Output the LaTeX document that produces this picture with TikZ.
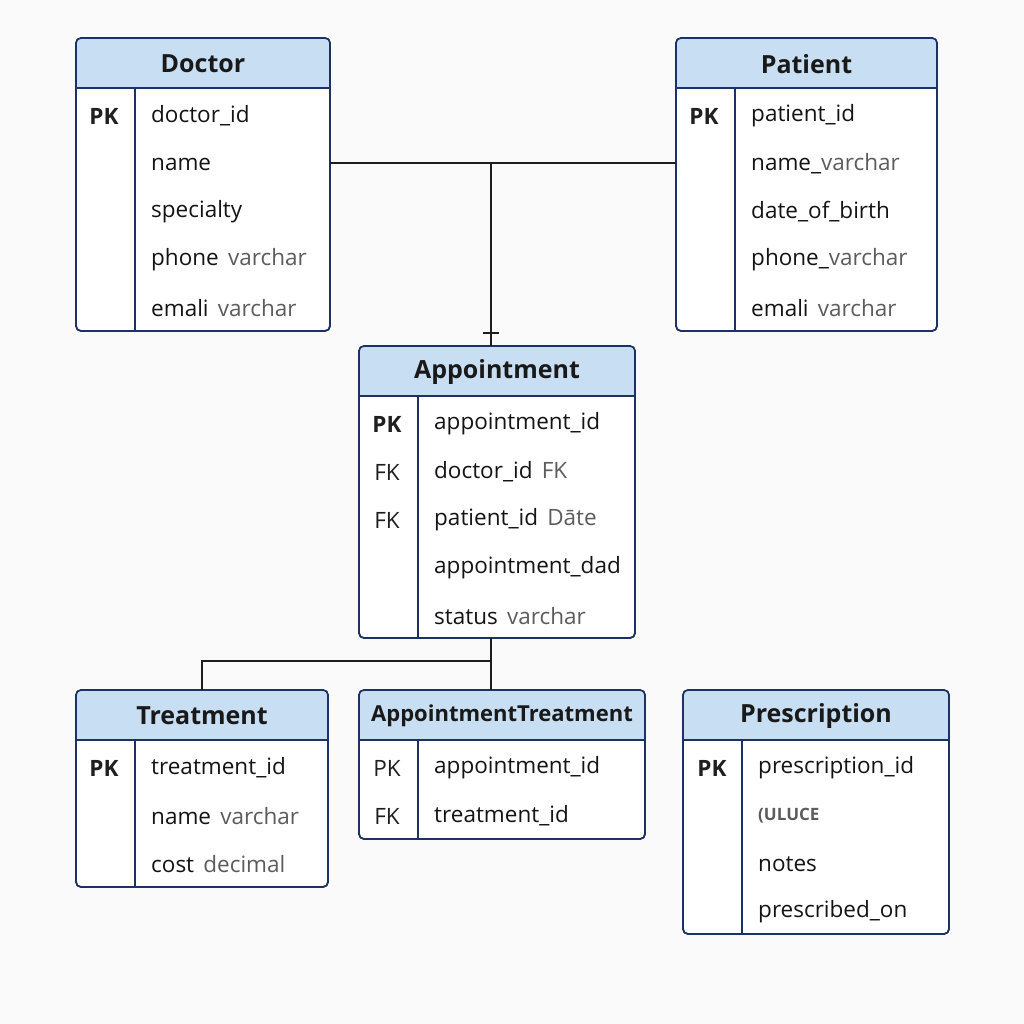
\documentclass[tikz,border=0pt]{standalone}
\usepackage{fontspec}
\setmainfont{Open Sans}
\usepackage{xcolor}
\usetikzlibrary{calc, positioning}

\definecolor{tableline}{RGB}{28,50,98}
\definecolor{headfill}{RGB}{200,222,242}
\definecolor{typegray}{RGB}{92,92,92}
\definecolor{linkgray}{RGB}{30,30,30}
\definecolor{pagebg}{RGB}{250,250,251}

\def\tp#1{\hspace{0.15em}\textcolor{typegray}{#1}}
\def\pk{\textbf{PK}}

\tikzset{
  tablebox/.style={draw=tableline, line width=1.6pt, fill=white, rounded corners=5pt, inner sep=0pt, outer sep=0pt},
  headtext/.style={font=\fontsize{25}{30}\selectfont\bfseries, text=black!90, inner sep=0pt},
  keytext/.style={font=\fontsize{22.5}{26}\selectfont, text=black!88, inner sep=0pt},
  fieldtext/.style={font=\fontsize{22.5}{26}\selectfont, text=black!92, anchor=west, inner sep=0pt},
  link/.style={draw=linkgray, line width=1.6pt}
}

% #1 name, #2 left, #3 top, #4 width, #5 height, #6 title
\newcommand{\ertable}[6]{
  \node[tablebox, minimum width=#4pt, minimum height=#5pt, anchor=north west] (#1) at (#2,#3) {};
  \begin{scope}
    \clip[rounded corners=5pt] (#1.north west) rectangle (#1.south east);
    \fill[headfill] (#1.north west) rectangle ([yshift=-50pt]#1.north east);
  \end{scope}
  \draw[tableline, line width=1.6pt] ([yshift=-50pt]#1.north west) -- ([yshift=-50pt]#1.north east);
  \draw[tableline, line width=1.6pt] ([xshift=59pt,yshift=-50pt]#1.north west) -- ([xshift=59pt]#1.south west);
  \draw[tableline, line width=1.6pt, rounded corners=5pt] (#1.north west) rectangle (#1.south east);
  \node[headtext] (#1-title) at ([yshift=-26pt]#1.north) {#6};
}

\begin{document}
\begin{tikzpicture}[x=1pt, y=-1pt]
  \useasboundingbox (0,0) rectangle (1024,1024);
  \fill[pagebg] (0,0) rectangle (1024,1024);

  % tables
  \ertable{doctor}{76}{38}{254}{293}{Doctor}
  \foreach \k/\f [count=\i] in {\pk/doctor\_id, /name, /specialty, /{phone \tp{varchar}}, /{emali \tp{varchar}}}{
    \node[keytext] (doctor-k\i) at (104,{116+48*(\i-1)}) {\k};
    \node[fieldtext] (doctor-f\i) at (151,{116+48*(\i-1)}) {\f};
  }

  \ertable{patient}{676}{38}{261}{293}{Patient}
  \foreach \k/\f [count=\i] in {\pk/patient\_id, /{name\_\textcolor{typegray}{varchar}}, /date\_of\_birth, /{phone\_\textcolor{typegray}{varchar}}, /{emali \tp{varchar}}}{
    \node[keytext] (patient-k\i) at (704,{116+48*(\i-1)}) {\k};
    \node[fieldtext] (patient-f\i) at (751,{116+48*(\i-1)}) {\f};
  }

  \ertable{appt}{359}{346}{276}{292}{Appointment}
  \foreach \k/\f [count=\i] in {\pk/appointment\_id, FK/{doctor\_id \tp{FK}}, FK/{patient\_id \tp{Dāte}}, /appointment\_dad, /{status \tp{varchar}}}{
    \node[keytext] (appt-k\i) at (387,{424+48*(\i-1)}) {\k};
    \node[fieldtext] (appt-f\i) at (434,{424+48*(\i-1)}) {\f};
  }

  \ertable{treat}{76}{690}{252}{197}{Treatment}
  \foreach \k/\f [count=\i] in {\pk/treatment\_id, /{name \tp{varchar}}, /{cost \tp{decimal}}}{
    \node[keytext] (treat-k\i) at (104,{768+48*(\i-1)}) {\k};
    \node[fieldtext] (treat-f\i) at (151,{768+48*(\i-1)}) {\f};
  }

  \ertable{apptreat}{359}{690}{286}{149}{\fontsize{22}{26}\selectfont AppointmentTreatment}
  \foreach \k/\f [count=\i] in {PK/appointment\_id, FK/treatment\_id}{
    \node[keytext] (apptreat-k\i) at (387,{768+48*(\i-1)}) {\k};
    \node[fieldtext] (apptreat-f\i) at (434,{768+48*(\i-1)}) {\f};
  }

  \ertable{presc}{683}{690}{266}{244}{Prescription}
  \foreach \k/\f [count=\i] in {\pk/prescription\_id, /{\fontsize{17}{20}\selectfont\bfseries\textcolor{typegray}{(ULUCE}}, /notes, /prescribed\_on}{
    \node[keytext] (presc-k\i) at (712,{768+48*(\i-1)}) {\k};
    \node[fieldtext] (presc-f\i) at (758,{768+48*(\i-1)}) {\f};
  }

  % relationships
  \coordinate (topjoin) at (491,163);
  \coordinate (lowjoin) at (491,661);
  \draw[link] (doctor.east |- topjoin) -- (patient.west |- topjoin);
  \draw[link] (topjoin) -- (topjoin |- appt.north);
  \draw[link] ([xshift=-8pt,yshift=13pt]topjoin |- appt.north) -- ++(16,0);
  \draw[link] (lowjoin |- appt.south) -- (lowjoin |- apptreat.north);
  \draw[link] (lowjoin) -- (lowjoin -| treat.north) -- (treat.north);
\end{tikzpicture}
\end{document}
